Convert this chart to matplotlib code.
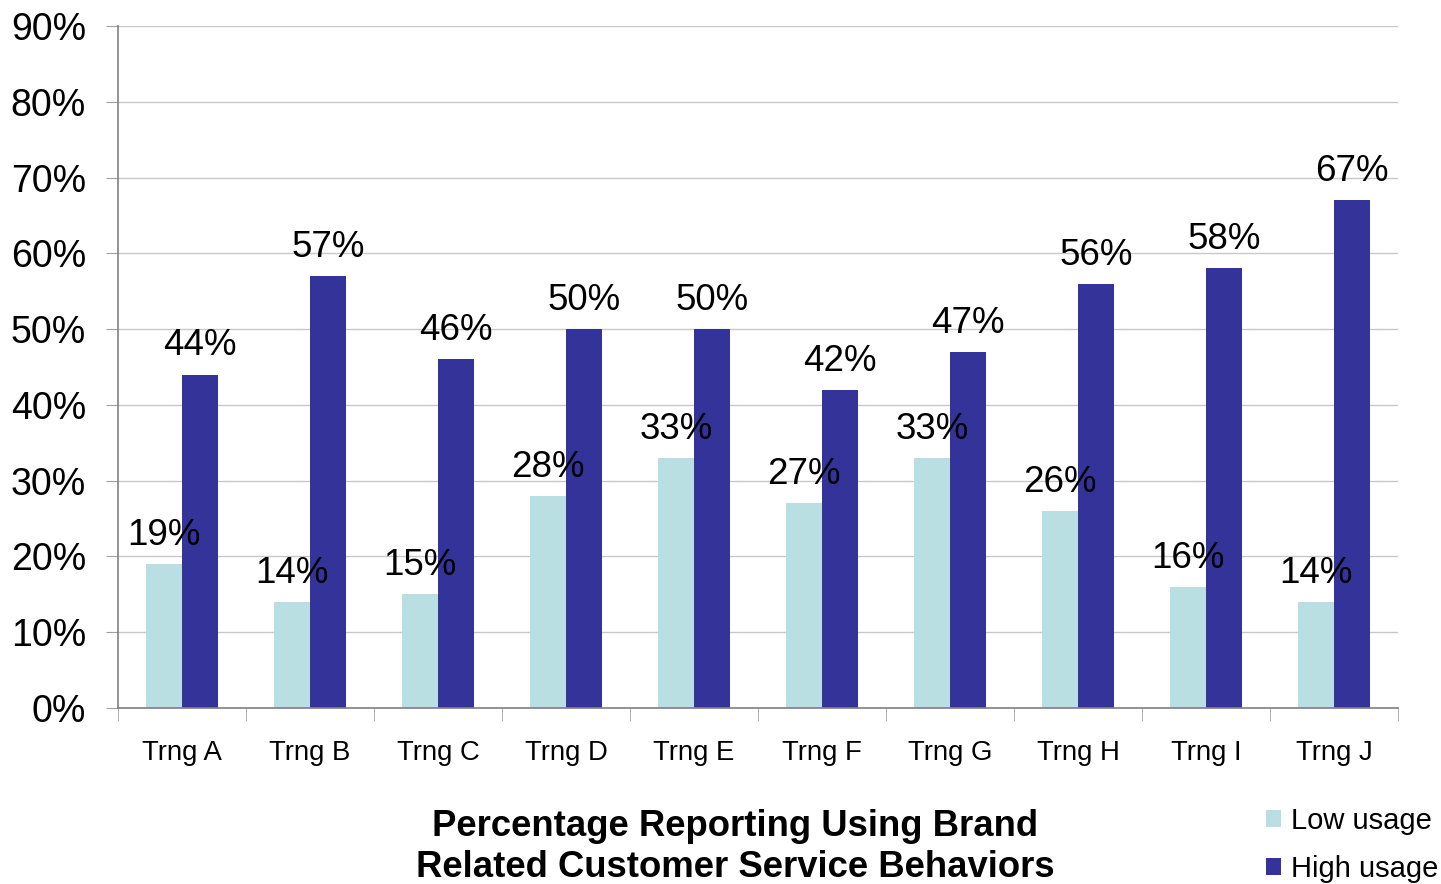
import numpy as np
import matplotlib.pyplot as plt
from matplotlib.ticker import FixedLocator

plt.rcParams['font.family'] = ['Liberation Sans', 'DejaVu Sans']

# dados
categorias = ['Trng A', 'Trng B', 'Trng C', 'Trng D', 'Trng E',
              'Trng F', 'Trng G', 'Trng H', 'Trng I', 'Trng J']
low_usage = [19, 14, 15, 28, 33, 27, 33, 26, 16, 14]
high_usage = [44, 57, 46, 50, 50, 42, 47, 56, 58, 67]
yticks = [0, 10, 20, 30, 40, 50, 60, 70, 80, 90]

cor_low = '#B9DFE3'
cor_high = '#343399'

fig = plt.figure(figsize=(14.41, 8.84), dpi=100)
ax = fig.add_axes([118 / 1441, 1 - 708 / 884, 1280 / 1441, 682 / 884])

x = np.arange(len(categorias))
w = 0.285
b1 = ax.bar(x - w / 2, low_usage, w, color=cor_low, label='Low usage', zorder=2)
b2 = ax.bar(x + w / 2, high_usage, w, color=cor_high, label='High usage', zorder=2)

# rotulos de valores
for barras, vals in [(b1, low_usage), (b2, high_usage)]:
    for r, v in zip(barras, vals):
        ax.annotate(f'{v}%', (r.get_x() + r.get_width() / 2, v),
                    xytext=(0, 8), textcoords='offset points',
                    ha='center', va='bottom', fontsize=26.5, zorder=3)

ax.set_xlim(-0.5, len(categorias) - 0.5)
ax.set_ylim(0, 90)
ax.set_yticks(yticks)
ax.set_yticklabels([f'{t}%' for t in yticks], fontsize=27)
ax.tick_params(axis='y', length=9, color='#A0A0A0', pad=14)
ax.yaxis.grid(True, color='#C8C8C8', linewidth=1, zorder=0)

ax.set_xticks(x)
ax.set_xticklabels(categorias, fontsize=19.8)
ax.xaxis.set_minor_locator(FixedLocator(np.arange(-0.5, len(categorias), 1)))
ax.tick_params(axis='x', which='major', length=0, pad=23)
ax.tick_params(axis='x', which='minor', length=9, color='#A0A0A0')

for s in ['top', 'right']:
    ax.spines[s].set_visible(False)
for s in ['left', 'bottom']:
    ax.spines[s].set_color('#808080')
    ax.spines[s].set_linewidth(1.2)

fig.text(735 / 1441, 1 - 847 / 884,
         'Percentage Reporting Using Brand\nRelated Customer Service Behaviors',
         ha='center', va='center', fontsize=26.3, fontweight='bold', linespacing=1.22)

fig.legend(handles=[b1, b2], loc='upper left', bbox_to_anchor=(1266 / 1441, 1 - 807 / 884),
           frameon=False, fontsize=21, handlelength=0.5, handleheight=0.5,
           handletextpad=0.35, labelspacing=0.68, borderpad=0, borderaxespad=0)

fig.savefig('out.png', dpi=100)
